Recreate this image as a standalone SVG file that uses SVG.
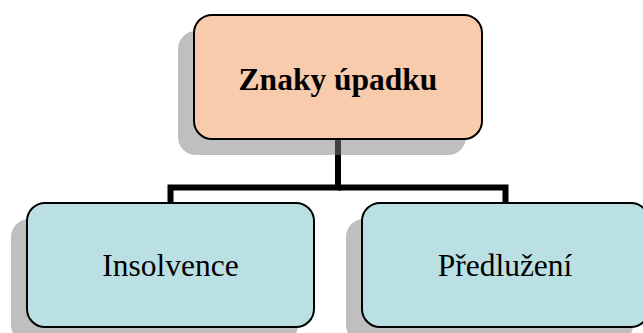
<svg xmlns="http://www.w3.org/2000/svg" width="643" height="333" viewBox="0 0 643 333">
<style>
.conn{fill:none;stroke:#000;stroke-width:6;stroke-linejoin:miter;stroke-linecap:butt}
.shadow{fill:#808080;fill-opacity:0.5}
.box{stroke:#000;stroke-width:2}
.top{fill:#F7CBAC}
.child{fill:#BAE0E3}
.lbl{font-family:"Liberation Serif","Times New Roman",serif;font-size:31.5px;fill:#000;text-anchor:middle}
.bold{font-weight:bold}
</style>
<rect width="643" height="333" fill="#fff"/>
<g id="connectors">
<polyline class="conn" points="338,139 338,187.5 170.5,187.5 170.5,203"/>
<polyline class="conn" points="338,187.5 505.5,187.5 505.5,203"/>
</g>
<g id="node-top">
<rect class="shadow" x="178" y="31" width="288" height="124" rx="18"/>
<rect class="box top" x="194" y="15" width="288" height="124" rx="18"/>
<text class="lbl bold" x="338" y="90">Znaky úpadku</text>
</g>
<g id="node-insolvence">
<rect class="shadow" x="11" y="219" width="287" height="124" rx="18"/>
<rect class="box child" x="27" y="203" width="287" height="124" rx="18"/>
<text class="lbl" x="170.5" y="276">Insolvence</text>
</g>
<g id="node-predluzeni">
<rect class="shadow" x="346" y="219" width="287" height="124" rx="18"/>
<rect class="box child" x="362" y="203" width="287" height="124" rx="18"/>
<text class="lbl" x="505" y="276">Předlužení</text>
</g>
</svg>
